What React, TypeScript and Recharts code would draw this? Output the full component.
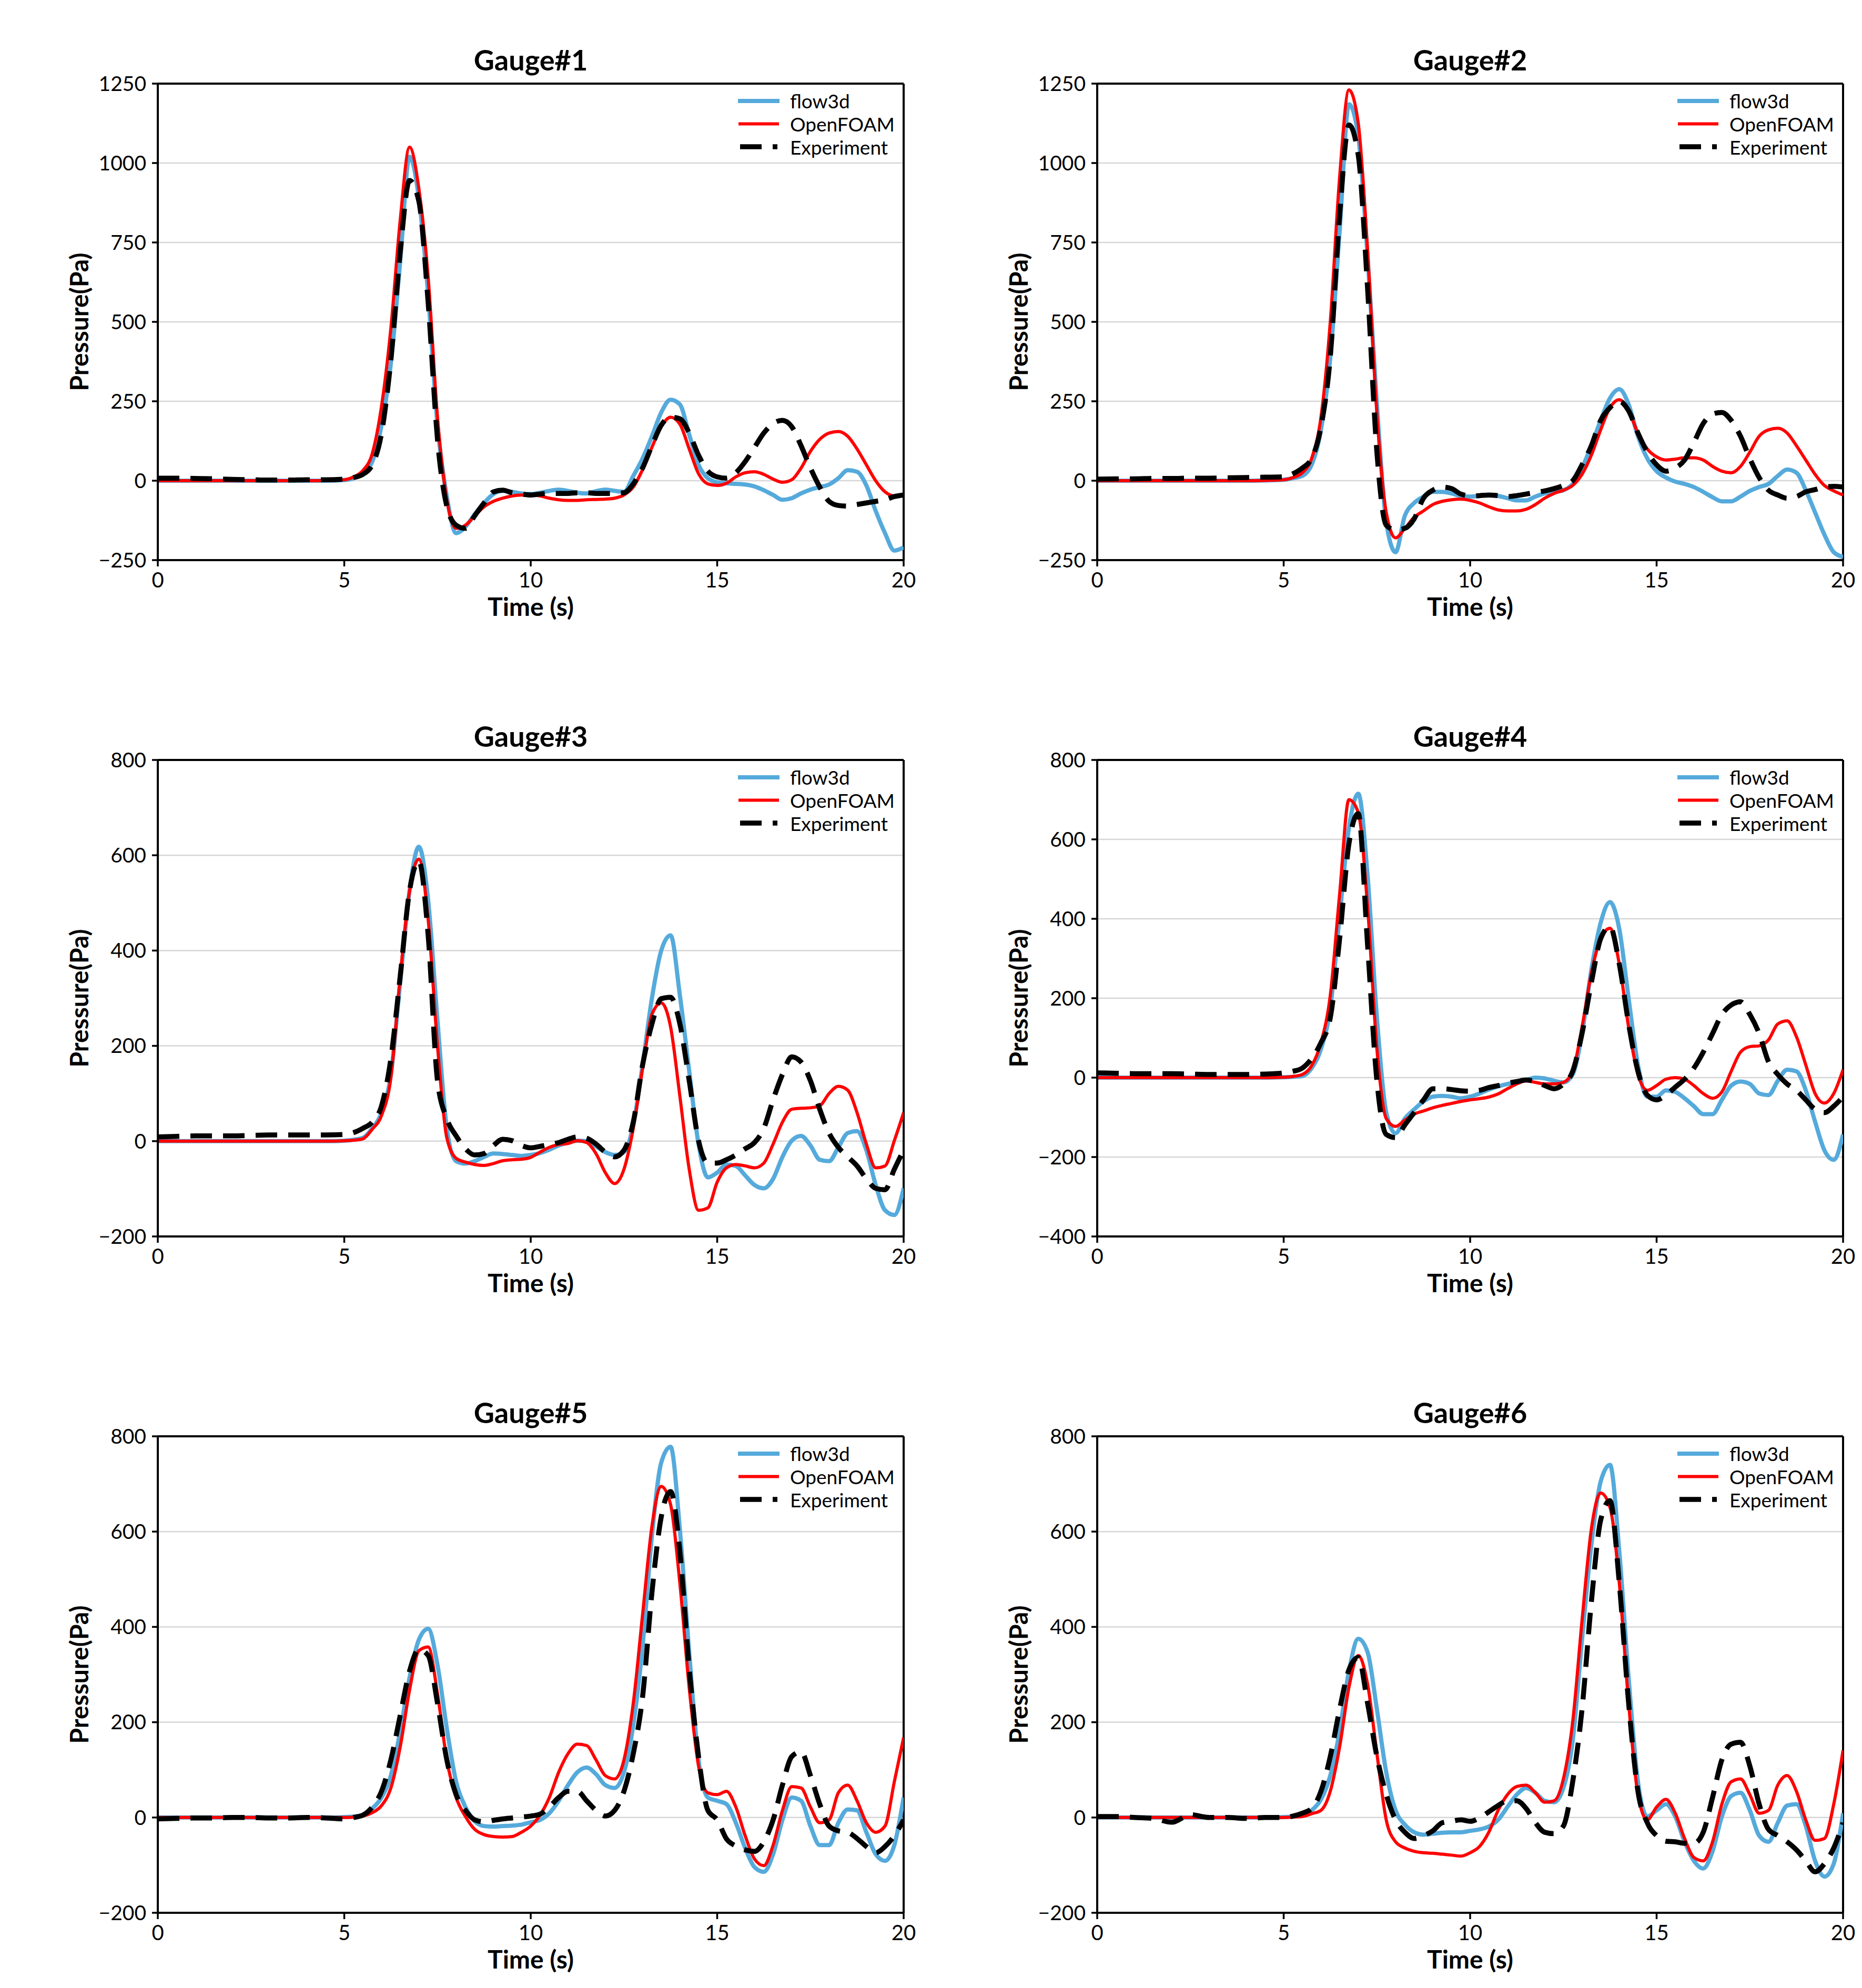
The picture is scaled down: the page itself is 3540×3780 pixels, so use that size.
import React from 'react';
import { LineChart, Line, XAxis, YAxis, CartesianGrid, ReferenceLine } from 'recharts';

// time samples (s): 0.5 s steps up to 5 s, then 0.25 s
const TIME = [
  0, 0.5, 1, 1.5, 2, 2.5, 3, 3.5, 4, 4.5, 5,
  5.25, 5.5, 5.75, 6, 6.25, 6.5, 6.75, 7, 7.25, 7.5, 7.75, 8, 8.25, 8.5, 8.75, 9, 9.25, 9.5, 9.75, 10,
  10.25, 10.5, 10.75, 11, 11.25, 11.5, 11.75, 12, 12.25, 12.5, 12.75, 13, 13.25, 13.5, 13.75, 14, 14.25, 14.5, 14.75, 15,
  15.25, 15.5, 15.75, 16, 16.25, 16.5, 16.75, 17, 17.25, 17.5, 17.75, 18, 18.25, 18.5, 18.75, 19, 19.25, 19.5, 19.75, 20,
];

const X_TICKS = [0, 5, 10, 15, 20];
const Y_TICKS_A = [-250, 0, 250, 500, 750, 1000, 1250];
const Y_TICKS_B = [-200, 0, 200, 400, 600, 800];
const Y_TICKS_C = [-400, -200, 0, 200, 400, 600, 800];

const TITLES = ['Gauge#1', 'Gauge#2', 'Gauge#3', 'Gauge#4', 'Gauge#5', 'Gauge#6'];
const SERIES_NAMES = ['flow3d', 'OpenFOAM', 'Experiment'];

// Gauge#1
const G1_FLOW3D = [
  0, 0, 0, 0, 0, 0, 0, 0, 0, 0, 2,
  8, 25, 60, 175, 370, 690, 1020, 890, 585, 175, -50, -165, -145, -105, -70, -42, -32, -35, -40, -42,
  -38, -32, -28, -32, -38, -40, -33, -28, -32, -35, 15, 70, 140, 215, 255, 240, 145, 50, 8, -5,
  -8, -10, -12, -18, -30, -45, -60, -55, -40, -28, -20, -12, 8, 33, 28, -15, -95, -165, -220, -210,
];
const G1_OPENFOAM = [
  0, 0, 0, 0, 0, 0, 0, 0, 0, 0, 3,
  12, 32, 85, 235, 480, 820, 1050, 920, 640, 200, -60, -150, -140, -110, -82, -65, -55, -48, -45, -45,
  -48, -55, -60, -62, -62, -60, -59, -58, -55, -45, -20, 35, 105, 170, 200, 178, 100, 22, -10, -15,
  -8, 12, 25, 28, 20, 5, -5, 3, 40, 92, 130, 150, 155, 140, 100, 50, 0, -35, -48, -45,
];
const G1_EXPERIMENT = [
  8, 8, 7, 6, 4, 3, 2, 2, 3, 3, 5,
  10, 20, 50, 150, 380, 720, 945, 880, 560, 130, -80, -140, -150, -110, -70, -35, -30, -38, -42, -45,
  -42, -40, -40, -40, -38, -38, -40, -40, -40, -38, -10, 40, 110, 175, 200, 195, 150, 80, 30, 12,
  8, 25, 60, 105, 150, 180, 190, 170, 110, 40, -20, -65, -78, -80, -75, -70, -65, -60, -50, -45,
];

// Gauge#2
const G2_FLOW3D = [
  0, 0, 0, 0, 0, 0, 0, 0, 0, 1, 3,
  8, 15, 50, 160, 388, 785, 1185, 1085, 705, 240, -130, -225, -110, -70, -50, -35, -35, -40, -48, -50,
  -48, -45, -48, -55, -62, -62, -50, -40, -35, -30, -10, 40, 110, 190, 260, 288, 240, 140, 70, 30,
  10, -3, -10, -20, -35, -52, -65, -65, -50, -32, -20, -10, 15, 35, 25, -30, -100, -170, -225, -240,
];
const G2_OPENFOAM = [
  0, 0, 0, 0, 0, 0, 0, 0, 0, 1, 3,
  10, 25, 70, 200, 500, 955, 1230, 1125, 725, 210, -100, -180, -150, -115, -95, -75, -65, -60, -58, -62,
  -70, -82, -92, -95, -95, -90, -75, -55, -40, -30, -15, 20, 80, 160, 230, 255, 220, 150, 100, 75,
  65, 68, 72, 72, 65, 45, 30, 25, 45, 90, 140, 160, 165, 150, 110, 65, 20, -15, -32, -45,
];
const G2_EXPERIMENT = [
  5, 6, 6, 7, 7, 8, 8, 9, 10, 11, 12,
  22, 40, 70, 170, 390, 835, 1120, 1025, 605, 90, -140, -155, -150, -120, -55, -30, -20, -25, -42, -48,
  -47, -45, -47, -50, -47, -42, -37, -32, -25, -15, 0, 50, 110, 190, 230, 250, 220, 150, 90, 50,
  30, 40, 65, 120, 180, 210, 215, 190, 140, 70, 10, -30, -45, -55, -50, -35, -28, -20, -18, -20,
];

// Gauge#3
const G3_FLOW3D = [
  0, 0, 0, 0, 0, 0, 0, 0, 0, 0, 1,
  3, 7, 27, 60, 140, 333, 525, 618, 505, 253, 27, -42, -47, -42, -33, -26, -27, -29, -31, -29,
  -25, -18, -9, -3, 1, 0, -11, -23, -29, -23, 34, 160, 300, 400, 432, 306, 147, -6, -76, -66,
  -49, -52, -72, -92, -99, -79, -33, 1, 11, -9, -39, -42, -13, 17, 21, -19, -92, -145, -155, -99,
];
const G3_OPENFOAM = [
  0, 0, 0, 0, 0, 0, 0, 0, 0, 0, 1,
  2, 5, 25, 54, 133, 346, 525, 592, 465, 200, 7, -36, -44, -49, -51, -47, -41, -39, -38, -34,
  -23, -13, -7, -5, 1, -3, -26, -66, -89, -59, 27, 153, 266, 290, 240, 94, -59, -145, -140, -86,
  -56, -49, -52, -56, -46, -6, 40, 67, 69, 70, 74, 100, 115, 107, 60, -6, -56, -52, 1, 60,
];
const G3_EXPERIMENT = [
  9, 10, 11, 11, 11, 12, 13, 13, 13, 13, 14,
  18, 27, 40, 74, 173, 346, 525, 588, 432, 127, 47, 11, -16, -29, -26, -9, 4, 1, -9, -14,
  -11, -7, -3, 4, 9, 6, -6, -23, -33, -19, 40, 160, 246, 299, 302, 246, 127, 1, -46, -46,
  -39, -29, -16, -3, 27, 87, 140, 177, 166, 127, 67, 17, -13, -33, -52, -79, -99, -102, -59, -19,
];

// Gauge#4
const G4_FLOW3D = [
  0, 0, 0, 0, 0, 0, 0, 0, 0, 0, 1,
  2, 4, 24, 72, 175, 406, 629, 715, 509, 151, -88, -140, -103, -80, -60, -48, -46, -48, -52, -48,
  -40, -30, -22, -16, -12, -6, 0, -2, -8, -12, 8, 111, 271, 390, 442, 374, 199, 32, -48, -48,
  -32, -36, -52, -72, -92, -92, -56, -20, -10, -16, -40, -44, -8, 20, 16, -32, -111, -183, -207, -143,
];
const G4_OPENFOAM = [
  0, 0, 0, 0, 0, 0, 0, 0, 0, 0, 1,
  3, 8, 30, 88, 207, 462, 700, 668, 430, 72, -103, -123, -107, -92, -84, -76, -70, -65, -60, -56,
  -53, -49, -41, -28, -16, -8, -12, -16, -16, -12, 16, 127, 263, 350, 376, 286, 127, 8, -32, -20,
  -4, 0, -4, -20, -40, -52, -36, 16, 64, 78, 80, 95, 135, 143, 103, 32, -40, -64, -40, 20,
];
const G4_EXPERIMENT = [
  12, 11, 10, 10, 10, 9, 8, 8, 8, 9, 12,
  16, 24, 48, 88, 151, 350, 589, 665, 334, -8, -143, -151, -119, -88, -56, -28, -28, -30, -33, -34,
  -32, -25, -20, -14, -10, -6, -10, -20, -28, -16, 16, 111, 239, 350, 380, 286, 135, 16, -44, -56,
  -44, -24, -4, 24, 64, 111, 159, 183, 191, 159, 111, 40, 8, -16, -32, -56, -80, -88, -72, -48,
];

// Gauge#5
const G5_FLOW3D = [
  0, 0, 0, 0, 0, 0, 0, 0, 0, 0, 1,
  2, 5, 19, 42, 88, 181, 293, 373, 396, 320, 187, 75, 22, -8, -18, -19, -18, -17, -15, -10,
  -5, 9, 35, 68, 95, 105, 91, 68, 62, 95, 194, 360, 591, 745, 778, 604, 346, 121, 42, 35,
  28, -11, -64, -104, -114, -77, -5, 42, 35, -18, -58, -58, -11, 17, 15, -31, -77, -91, -58, 42,
];
const G5_OPENFOAM = [
  0, 0, 0, 0, 0, 0, 0, 0, 0, 0, 0,
  1, 3, 10, 25, 62, 148, 267, 350, 358, 260, 121, 42, 2, -25, -36, -40, -41, -40, -31, -18,
  5, 42, 95, 134, 154, 151, 121, 88, 81, 121, 240, 426, 611, 695, 657, 491, 272, 108, 52, 48,
  55, 22, -38, -87, -101, -58, 15, 65, 62, 22, -11, -5, 52, 68, 35, -11, -31, -18, 75, 168,
];
const G5_EXPERIMENT = [
  -3, -2, -1, -1, 0, 0, -1, -1, 0, -1, -3,
  0, 5, 22, 55, 121, 214, 307, 353, 340, 240, 121, 48, 15, -5, -9, -6, -3, -1, 1, 3,
  7, 22, 42, 55, 55, 35, 15, 3, 15, 55, 134, 254, 472, 631, 684, 558, 313, 128, 15, -5,
  -45, -60, -68, -71, -51, -5, 68, 128, 138, 88, 28, -18, -28, -31, -44, -61, -74, -61, -38, -5,
];

// Gauge#6
const G6_FLOW3D = [
  0, 0, 0, 0, 0, 0, 0, 0, 0, 0, 1,
  2, 5, 15, 38, 88, 181, 307, 375, 347, 227, 95, 15, -15, -31, -36, -34, -32, -31, -31, -28,
  -25, -19, -5, 22, 48, 62, 52, 35, 32, 62, 161, 373, 572, 705, 740, 558, 293, 75, 2, 15,
  28, 2, -51, -91, -107, -71, 2, 45, 52, 15, -38, -51, -11, 25, 28, -18, -91, -124, -97, 9,
];
const G6_OPENFOAM = [
  0, 0, 0, 0, 0, 0, 0, 0, 0, 0, 0,
  1, 2, 8, 15, 55, 148, 273, 340, 280, 134, -5, -51, -64, -71, -74, -75, -77, -79, -81, -74,
  -61, -31, 15, 48, 65, 68, 52, 32, 35, 81, 201, 413, 605, 681, 651, 492, 240, 48, -5, 22,
  38, 9, -44, -84, -91, -51, 28, 75, 81, 48, 9, 15, 68, 88, 55, -5, -48, -44, 28, 141,
];
const G6_EXPERIMENT = [
  2, 2, 0, -2, -10, 6, 0, 0, -2, 0, 0,
  3, 9, 19, 55, 128, 227, 310, 336, 240, 128, 48, -5, -31, -44, -38, -28, -11, -8, -5, -8,
  -1, 12, 25, 35, 35, 19, -11, -31, -34, -18, 75, 227, 452, 624, 665, 492, 240, 55, -11, -38,
  -50, -51, -54, -54, -31, 42, 121, 154, 158, 108, 28, -25, -38, -51, -68, -91, -114, -97, -64, -11,
];

const GAUGES = [
  { title: TITLES[0], series: [G1_FLOW3D, G1_OPENFOAM, G1_EXPERIMENT], yTicks: Y_TICKS_A },
  { title: TITLES[1], series: [G2_FLOW3D, G2_OPENFOAM, G2_EXPERIMENT], yTicks: Y_TICKS_A },
  { title: TITLES[2], series: [G3_FLOW3D, G3_OPENFOAM, G3_EXPERIMENT], yTicks: Y_TICKS_B },
  { title: TITLES[3], series: [G4_FLOW3D, G4_OPENFOAM, G4_EXPERIMENT], yTicks: Y_TICKS_C },
  { title: TITLES[4], series: [G5_FLOW3D, G5_OPENFOAM, G5_EXPERIMENT], yTicks: Y_TICKS_B },
  { title: TITLES[5], series: [G6_FLOW3D, G6_OPENFOAM, G6_EXPERIMENT], yTicks: Y_TICKS_B },
];

const FONT = 'Lato, "Open Sans", sans-serif';
const STYLES = [
  { key: 'flow3d', color: '#55aadb', width: 8, dash: undefined },
  { key: 'openfoam', color: '#ff0000', width: 6, dash: undefined },
  { key: 'experiment', color: '#000000', width: 9.5, dash: '41 21' },
];

const PLOT_W = 1418;
const PLOT_H = 906;
const AXIS_W = 300;
const TOP = 159;
const RIGHT = 68;
const BOTTOM = 221;
const CHART_W = AXIS_W + PLOT_W + RIGHT;
const CHART_H = TOP + PLOT_H + BOTTOM;

const withMinus = (v: number) => String(v).replace('-', '\u2212');

function GaugeChart({ gauge, left, top }: any) {
  const data = TIME.map((t, i) => ({
    t,
    flow3d: gauge.series[0][i],
    openfoam: gauge.series[1][i],
    experiment: gauge.series[2][i],
  }));
  const yMin = gauge.yTicks[0];
  const yMax = gauge.yTicks[gauge.yTicks.length - 1];
  const plotRight = AXIS_W + PLOT_W;
  const midX = AXIS_W + PLOT_W / 2;
  const midY = TOP + PLOT_H / 2;

  return (
    <div style={{ position: 'absolute', left, top, width: CHART_W, height: CHART_H }}>
      <LineChart width={CHART_W} height={CHART_H} data={data} margin={{ top: TOP, right: RIGHT, bottom: 0, left: 0 }}>
        <CartesianGrid vertical={false} stroke="#d6d6d6" strokeWidth={2.5} />
        <XAxis
          dataKey="t"
          type="number"
          domain={[0, 20]}
          ticks={X_TICKS}
          interval={0}
          allowDataOverflow
          height={BOTTOM}
          tickSize={12}
          tickMargin={12}
          axisLine={{ stroke: '#000', strokeWidth: 4 }}
          tickLine={{ stroke: '#000', strokeWidth: 3.5 }}
          tick={{ fill: '#000', fontSize: 40, fontFamily: FONT }}
        />
        <YAxis
          type="number"
          domain={[yMin, yMax]}
          ticks={gauge.yTicks}
          interval={0}
          allowDataOverflow
          width={AXIS_W}
          tickSize={11}
          tickMargin={11}
          tickFormatter={withMinus}
          axisLine={{ stroke: '#000', strokeWidth: 4 }}
          tickLine={{ stroke: '#000', strokeWidth: 3.5 }}
          tick={{ fill: '#000', fontSize: 39, fontFamily: FONT }}
        />
        <ReferenceLine y={yMax} stroke="#000" strokeWidth={4} />
        <ReferenceLine x={20} stroke="#000" strokeWidth={4} />
        {STYLES.map((s) => (
          <Line
            key={s.key}
            type="monotone"
            dataKey={s.key}
            stroke={s.color}
            strokeWidth={s.width}
            strokeDasharray={s.dash}
            dot={false}
            activeDot={false}
            isAnimationActive={false}
          />
        ))}
      </LineChart>
      <svg
        width={CHART_W}
        height={CHART_H}
        style={{ position: 'absolute', left: 0, top: 0, pointerEvents: 'none' }}
      >
        <text x={midX} y={134} textAnchor="middle" fontFamily={FONT} fontWeight={700} fontSize={54} fill="#000">
          {gauge.title}
        </text>
        <text
          x={168}
          y={midY}
          transform={`rotate(-90 168 ${midY})`}
          textAnchor="middle"
          fontFamily={FONT}
          fontWeight={700}
          fontSize={48}
          fill="#000"
        >
          Pressure(Pa)
        </text>
        <text x={midX} y={TOP + PLOT_H + 106} textAnchor="middle" fontFamily={FONT} fontWeight={700} fontSize={48} fill="#000">
          Time (s)
        </text>
        {STYLES.map((s, i) => (
          <g key={s.key}>
            <line
              x1={plotRight - 311}
              x2={plotRight - 240}
              y1={TOP + 33 + i * 43.5}
              y2={TOP + 33 + i * 43.5}
              stroke={s.color}
              strokeWidth={s.width}
              strokeDasharray={s.dash}
              strokeLinecap={s.dash ? 'butt' : 'square'}
            />
            <text x={plotRight - 216} y={TOP + 47 + i * 44} fontFamily={FONT} fontSize={37} fill="#000">
              {SERIES_NAMES[i]}
            </text>
          </g>
        ))}
      </svg>
    </div>
  );
}

export default function App() {
  return (
    <div style={{ position: 'absolute', left: 0, top: 0, width: 3540, height: 3780, background: '#fff' }}>
      {GAUGES.map((g, i) => (
        <GaugeChart key={g.title} gauge={g} left={(i % 2) * 1786} top={Math.floor(i / 2) * 1286} />
      ))}
    </div>
  );
}
